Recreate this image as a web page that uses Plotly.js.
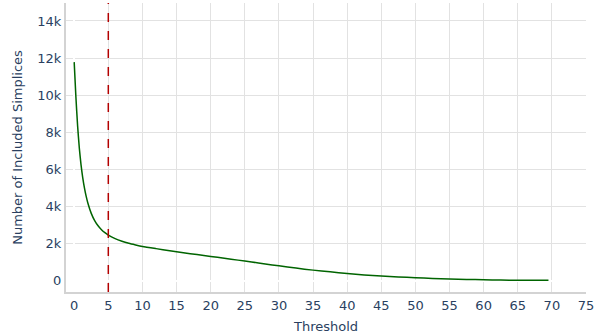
<!DOCTYPE html>
<html>
<head>
<meta charset="utf-8">
<script src="https://cdn.plot.ly/plotly-3.0.1.min.js"></script>
<style>html,body{margin:0;padding:0;background:#fff;}#chart{width:608px;height:336px;}</style>
</head>
<body>
<div id="chart"></div>
<script>
var thresholds = [0, 0.25, 0.5, 0.75, 1, 1.25, 1.5, 1.75, 2, 2.5, 3, 3.5, 4, 4.5, 5, 6, 7, 8, 9, 10, 12, 14, 16, 18, 20, 22, 24, 26, 28, 30, 32.5, 35, 37.5, 40, 42.5, 45, 47.5, 50, 52.5, 55, 57.5, 60, 62.5, 65, 67.5, 69.5];
var simplices = [11780, 9900, 8350, 7150, 6250, 5550, 5000, 4550, 4180, 3620, 3230, 2950, 2740, 2580, 2450, 2260, 2120, 2010, 1920, 1840, 1720, 1610, 1500, 1400, 1300, 1200, 1100, 1000, 890, 790, 670, 560, 470, 380, 300, 240, 190, 150, 110, 80, 60, 40, 25, 15, 10, 8];
var cutoff = 5;

var trace = {
  x: thresholds,
  y: simplices,
  type: 'scatter',
  mode: 'lines',
  line: {color: '#006400', width: 1.5, shape: 'spline', smoothing: 0.6},
  showlegend: false,
  hoverinfo: 'none'
};

var layout = {
  width: 608,
  height: 336,
  margin: {l: 66, r: 22, t: 3, b: 44},
  paper_bgcolor: '#fff',
  plot_bgcolor: '#fff',
  font: {family: 'DejaVu Sans, Verdana, sans-serif', size: 13, color: '#2a3f5f'},
  xaxis: {
    range: [-1.2, 75],
    dtick: 5,
    tick0: 0,
    showgrid: true,
    gridcolor: '#e2e2e2',
    gridwidth: 1,
    zeroline: true,
    zerolinecolor: '#ffffff',
    zerolinewidth: 2,
    showline: true,
    linecolor: '#d3d3d3',
    linewidth: 2,
    ticks: '',
    automargin: true,
    title: {text: 'Threshold', font: {size: 13, color: '#2a3f5f'}, standoff: 10}
  },
  yaxis: {
    range: [-620, 14970],
    dtick: 2000,
    tick0: 0,
    showgrid: true,
    gridcolor: '#e2e2e2',
    gridwidth: 1,
    zeroline: true,
    zerolinecolor: '#ffffff',
    zerolinewidth: 2,
    showline: true,
    linecolor: '#d3d3d3',
    linewidth: 2,
    ticks: '',
    automargin: true,
    title: {text: 'Number of Included Simplices', font: {size: 13, color: '#2a3f5f'}, standoff: 12}
  },
  shapes: [{
    type: 'line',
    xref: 'x', yref: 'paper',
    x0: cutoff, x1: cutoff, y0: 0, y1: 1,
    line: {color: '#b30000', width: 1.5, dash: 'dash'}
  }]
};

Plotly.newPlot('chart', [trace], layout, {displayModeBar: false, staticPlot: true});
</script>
</body>
</html>
